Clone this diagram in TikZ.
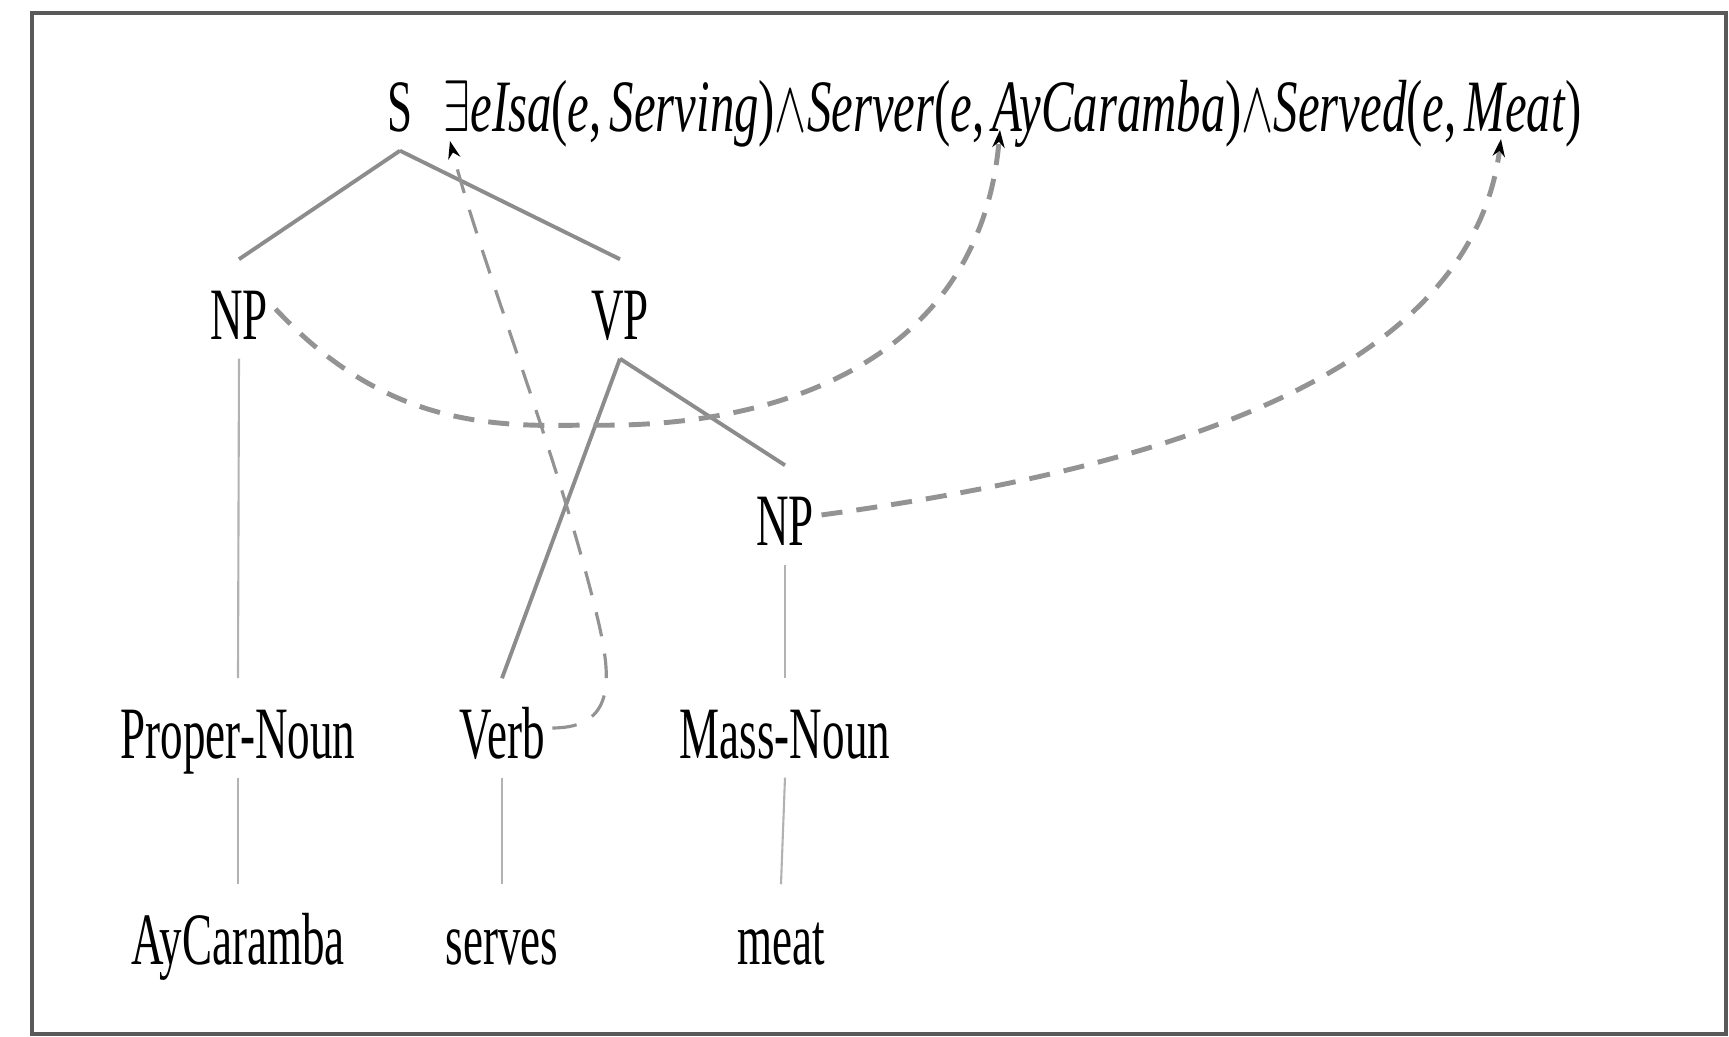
\documentclass[tikz,border=0pt]{standalone}
\usepackage{fontspec}
\setmainfont{Liberation Serif}
\usetikzlibrary{arrows.meta}
\newcommand{\nar}[1]{\scalebox{0.61}[1]{#1}}
\tikzset{
    every node/.style={inner xsep=2pt, inner ysep=0pt, text height=0.8cm,
    	text depth=0.18cm, anchor=base, font=\fontsize{21}{25}\selectfont}
}
\tikzset{
    branch/.style={draw=gray!90, line width=1.1pt},
    leafline/.style={draw=gray!60, line width=0.6pt},
    sem/.style={draw=gray!85, line width=1.4pt, dash pattern=on 6pt off 4pt,
    	-{Stealth[black,length=5pt,width=3.5pt]}},
    semthin/.style={sem, line width=0.9pt, dash pattern=on 7pt off 5pt}
}

\begin{document}
\begin{tikzpicture}[x=0.01cm, y=-0.01cm]
  \useasboundingbox (0,0) rectangle (1729,1037);
  \draw[gray!70!black, line width=1pt] (32,13) rectangle (1726,1034);

  \node (s) at (400,132) {\nar{S}};
  \node (lf) [anchor=base west] at (436,132) {\scalebox{0.66}[1]{$\exists$\textit{eIsa}(\textit{e},\,\textit{Serving})$\wedge$\textit{Server}(\textit{e},\,\textit{AyCaramba})$\wedge$\textit{Served}(\textit{e},\,\textit{Meat})}};

  \node (np1) at (239,340) {\nar{NP}};
  \node (vp) at (620,340) {\nar{VP}};
  \node (np2) at (785,546) {\nar{NP}};

  \node (pn) at (238,759) {\nar{Proper-Noun}};
  \node (verb) at (502,759) {\nar{Verb}};
  \node (mn) at (785,759) {\nar{Mass-Noun}};

  \node (ayc) at (238,965) {\nar{AyCaramba}};
  \node (srv) at (502,965) {\nar{serves}};
  \node (meat) at (781,965) {\nar{meat}};

  \coordinate (ex) at (450,141);
  \coordinate (ay) at (1000,130);
  \coordinate (me) at (1501,139);

  \draw[branch] (s.south) -- (np1.north);
  \draw[branch] (s.south) -- (vp.north);
  \draw[branch] (vp.south) -- (verb.north);
  \draw[branch] (vp.south) -- (np2.north);
  \draw[leafline] (np1.south) -- (pn.north);
  \draw[leafline] (np2.south) -- (mn.north);
  \draw[leafline] (pn.south) -- (ayc.north);
  \draw[leafline] (verb.south) -- (srv.north);
  \draw[leafline] (mn.south) -- (meat.north);

  \draw[semthin] (verb.east) .. controls (615,728) and (612,680) .. (598,620)
    .. controls (560,460) and (480,260) .. (ex);
  \draw[sem] (np1.east) .. controls (380,420) and (480,428) .. (585,425)
    .. controls (780,430) and (980,360) .. (ay);
  \draw[sem] (np2.east) .. controls (1150,470) and (1470,380) .. (me);
\end{tikzpicture}
\end{document}
